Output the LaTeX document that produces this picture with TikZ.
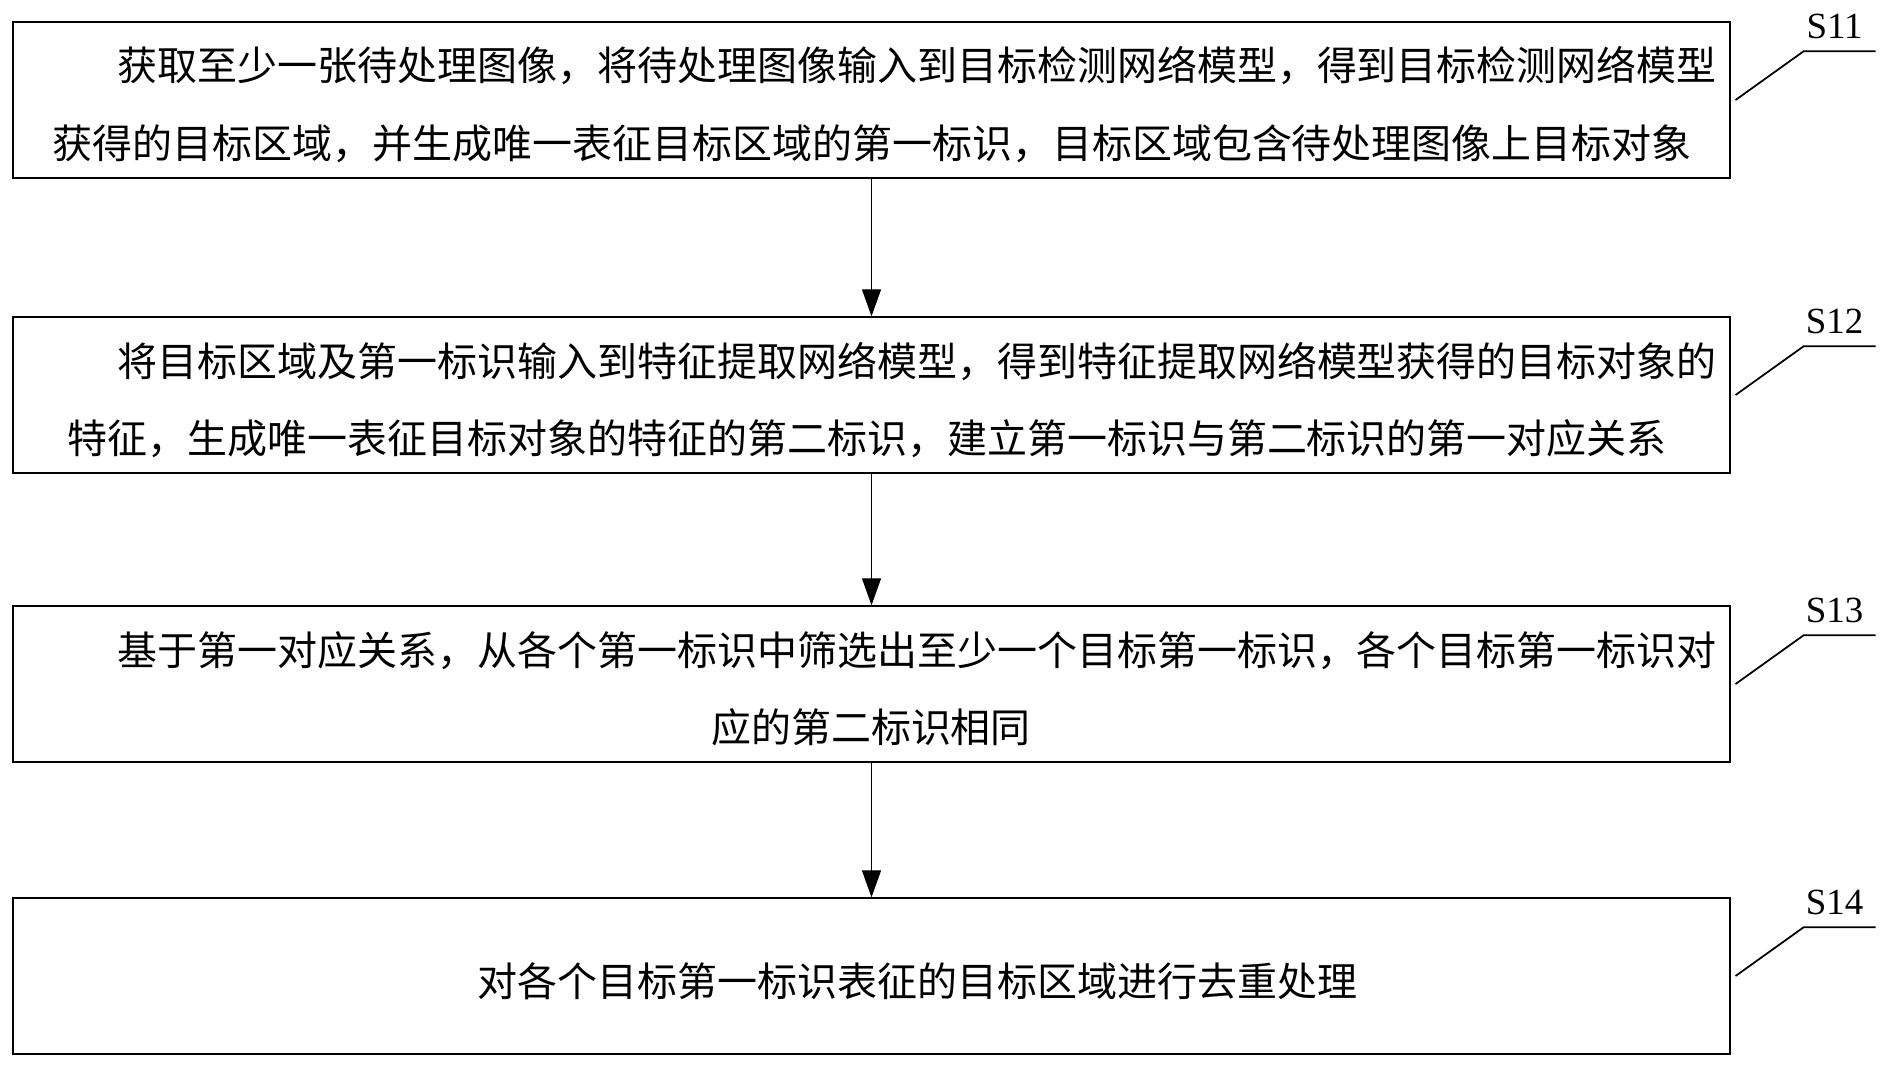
\documentclass[tikz,border=0pt]{standalone}
\usepackage{fontspec}
\setmainfont{Liberation Serif}
\newfontfamily\cjk{Noto Sans CJK SC}
\usetikzlibrary{arrows.meta,positioning,calc}

\begin{document}
\begin{tikzpicture}[x=0.02cm,y=-0.02cm,
  stepbox/.style={draw,line width=0.8pt,minimum width=34.34cm,minimum height=3.12cm,inner sep=0pt},
  txt/.style={anchor=base west,inner sep=0pt,font=\cjk\fontsize{22.76pt}{22.76pt}\selectfont},
  tag/.style={anchor=base,inner sep=0pt,font=\fontsize{21pt}{21pt}\selectfont},
  flow/.style={line width=0.7pt,-{Triangle[length=0.54cm,width=0.38cm]}}]
\useasboundingbox (0,0) rectangle (1888,1068);
% steps
\node[stepbox] (s11) at (871.5,100) {};
\node[stepbox] (s12) at (871.5,395) {};
\node[stepbox] (s13) at (871.5,684) {};
\node[stepbox] (s14) at (871.5,976) {};
% texts
\node[txt] (l11a) at (117,81) {获取至少一张待处理图像，将待处理图像输入到目标检测网络模型，得到目标检测网络模型};
\node[txt] (l11b) at (52,158) {获得的目标区域，并生成唯一表征目标区域的第一标识，目标区域包含待处理图像上目标对象};
\node[txt] (l12a) at (117,376) {将目标区域及第一标识输入到特征提取网络模型，得到特征提取网络模型获得的目标对象的};
\node[txt] (l12b) at (67,453) {特征，生成唯一表征目标对象的特征的第二标识，建立第一标识与第二标识的第一对应关系};
\node[txt] (l13a) at (117,665) {基于第一对应关系，从各个第一标识中筛选出至少一个目标第一标识，各个目标第一标识对};
\node[txt,anchor=base] (l13b) at (871,742) {应的第二标识相同};
\node[txt] (l14a) at (477,996) {对各个目标第一标识表征的目标区域进行去重处理};
% arrows
\draw[flow] (s11) -- (s12);
\draw[flow] (s12) -- (s13);
\draw[flow] (s13) -- (s14);
% step labels
\foreach \s in {11,12,13,14} {
  \draw[line width=1pt] ($(s\s.east)+(5,0)$) -- ($(s\s.north east)+(73,30)$) coordinate (k\s) -- ++(72,0);
  \node[tag] (t\s) at ($(s\s.north east)+(104,17)$) {S\s};
}
\end{tikzpicture}
\end{document}
